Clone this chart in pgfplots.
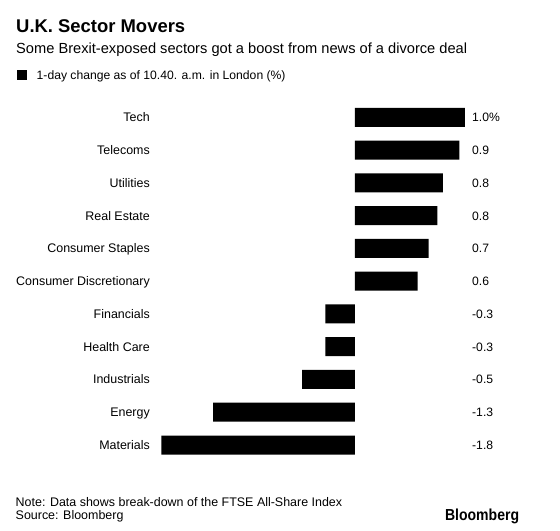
\documentclass[border=0pt]{standalone}
\usepackage{pgfplots}
\pgfplotsset{compat=1.18}
\usepackage{fontspec}
\setmainfont{Liberation Sans}
\tikzset{vl/.style={anchor=base west, inner sep=0pt, xshift=7bp, yshift=-4.4bp, font=\fontsize{12.2}{14}\selectfont}}
\begin{document}
\begin{tikzpicture}
\path[use as bounding box, fill=white] (0bp,0bp) rectangle (560bp,531bp);
\node[anchor=base west, inner sep=0pt, font=\fontsize{18.5}{20}\selectfont\bfseries] at (16bp,498.3bp) {U.K. Sector Movers};
\node[anchor=base west, inner sep=0pt, font=\fontsize{14.7}{16}\selectfont] at (16bp,477bp) {Some Brexit-exposed sectors got a boost from news of a divorce deal};
\fill[black] (17bp,451bp) rectangle (27bp,461bp);
\node[anchor=base west, inner sep=0pt, font=\fontsize{12.2}{14}\selectfont] at (36.5bp,451.7bp) {1-day change as of 10.40. a.m. in London (\%)};
\begin{axis}[
  at={(157bp,69.6bp)}, anchor=south west, scale only axis,
  width=308bp, height=360.5bp,
  xmin=-1.8, xmax=1.0, ymin=-0.5, ymax=10.5,
  xbar, bar width=19bp,
  axis line style={draw=none}, xtick=\empty,
  ytick={0,1,2,3,4,5,6,7,8,9,10},
  yticklabels={Materials,Energy,Industrials,Health Care,Financials,Consumer Discretionary,Consumer Staples,Real Estate,Utilities,Telecoms,Tech},
  major tick length=0pt,
  yticklabel style={font=\fontsize{12.5}{14}\selectfont, anchor=base east, inner sep=0pt, xshift=-7bp, yshift=-4.4bp},
  clip=false,
]
\addplot[fill=black, draw=none] coordinates {
(1.0,10) (0.95,9) (0.80,8) (0.75,7) (0.67,6) (0.57,5)
(-0.27,4) (-0.27,3) (-0.48,2) (-1.29,1) (-1.76,0)
};
\node[vl] at (axis cs:1.0,10) {1.0\%};
\node[vl] at (axis cs:1.0,9) {0.9};
\node[vl] at (axis cs:1.0,8) {0.8};
\node[vl] at (axis cs:1.0,7) {0.8};
\node[vl] at (axis cs:1.0,6) {0.7};
\node[vl] at (axis cs:1.0,5) {0.6};
\node[vl] at (axis cs:1.0,4) {-0.3};
\node[vl] at (axis cs:1.0,3) {-0.3};
\node[vl] at (axis cs:1.0,2) {-0.5};
\node[vl] at (axis cs:1.0,1) {-1.3};
\node[vl] at (axis cs:1.0,0) {-1.8};
\end{axis}
\node[anchor=base west, inner sep=0pt, font=\fontsize{12.5}{14}\selectfont] at (15.5bp,25bp) {Note: Data shows break-down of the FTSE All-Share Index};
\node[anchor=base west, inner sep=0pt, font=\fontsize{12.5}{14}\selectfont] at (15.5bp,12bp) {Source: Bloomberg};
\node[anchor=base east, inner sep=0pt] at (519.3bp,11bp) {\scalebox{0.88}[1]{\fontsize{16}{18}\selectfont\bfseries Bloomberg}};
\end{tikzpicture}
\end{document}
